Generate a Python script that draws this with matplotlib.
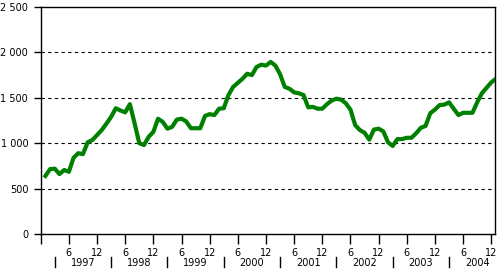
import matplotlib
matplotlib.use('Agg')
import matplotlib.pyplot as plt
import matplotlib.transforms as mtransforms

# monthly values, Jan 1997 .. Jan 2005
values = [640, 715, 720, 660, 705, 685, 840, 890, 880, 1010, 1035, 1090,
          1145, 1215, 1290, 1385, 1360, 1340, 1430, 1220, 1000, 980, 1070, 1125,
          1270, 1235, 1160, 1180, 1260, 1270, 1240, 1165, 1165, 1165, 1300, 1320,
          1310, 1380, 1385, 1530, 1620, 1665, 1710, 1765, 1750, 1840, 1865, 1855,
          1895, 1855, 1760, 1620, 1600, 1560, 1550, 1530, 1395, 1400, 1380, 1380,
          1430, 1470, 1490, 1480, 1440, 1370, 1200, 1145, 1115, 1040, 1150, 1160,
          1130, 1010, 970, 1045, 1045, 1060, 1060, 1110, 1170, 1190, 1330, 1370,
          1420, 1425, 1450, 1380, 1310, 1335, 1335, 1335, 1450, 1550, 1610, 1670,
          1710]
months = list(range(1, len(values) + 1))
years = ['1997', '1998', '1999', '2000', '2001', '2002', '2003', '2004']
yticks = [0, 500, 1000, 1500, 2000, 2500]
ytick_labels = ['0', '500', '1 000', '1 500', '2 000', '2 500']

fig = plt.figure(figsize=(4.99, 2.69), dpi=100)
ax = fig.add_axes([0.0816, 0.130, 0.9104, 0.844])

ax.plot(months, values, color='#008000', lw=3, solid_joinstyle='round', zorder=3)

ax.set_xlim(0, 96.8)
ax.set_ylim(0, 2500)
ax.set_yticks(yticks)
ax.set_yticklabels(ytick_labels)
for y in yticks[1:-1]:
    ax.axhline(y, color='black', lw=0.8, dashes=(3, 3), zorder=1)

xt = list(range(0, 97, 6))
ax.set_xticks(xt)
ax.set_xticklabels([''] + ['6' if i % 2 == 1 else '12' for i in range(1, len(xt))])

ax.tick_params(axis='both', direction='out', length=5, width=1, labelsize=7, color='black')
ax.tick_params(axis='x', length=7, pad=3)
ax.tick_params(axis='y', pad=4)
for s in ax.spines.values():
    s.set_linewidth(1)
    s.set_color('black')

# year labels and separators below the month ticks
trans = mtransforms.blended_transform_factory(ax.transData, ax.transAxes)
for i, yr in enumerate(years):
    sep = 3 + 12 * i
    ax.plot([sep, sep], [-0.10, -0.145], color='black', lw=1, transform=trans, clip_on=False)
    ax.text(9 + 12 * i, -0.128, yr, transform=trans, ha='center', va='center', fontsize=7)

fig.savefig('out.png', dpi=100)
